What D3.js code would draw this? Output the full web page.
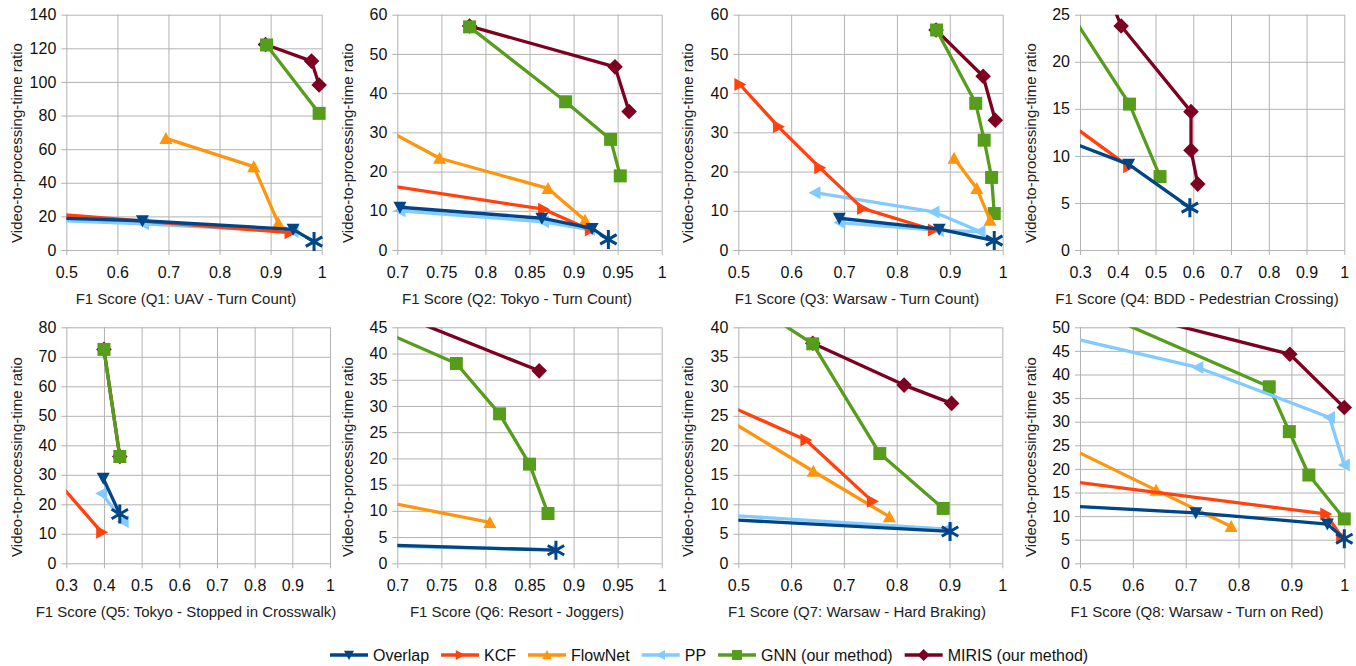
<!DOCTYPE html>
<html><head><meta charset="utf-8">
<script src="https://cdn.jsdelivr.net/npm/d3@7"></script>
<style>
body{margin:0;background:#fff;}
svg{display:block;font-family:"Liberation Sans",Arial,sans-serif;}
</style></head><body>
<svg id="chart" width="1356" height="666"></svg>
<script>
// ---------------- DATA ----------------
const queryTitles = [
  "F1 Score (Q1: UAV - Turn Count)",
  "F1 Score (Q2: Tokyo - Turn Count)",
  "F1 Score (Q3: Warsaw - Turn Count)",
  "F1 Score (Q4: BDD - Pedestrian Crossing)",
  "F1 Score (Q5: Tokyo - Stopped in Crosswalk)",
  "F1 Score (Q6: Resort - Joggers)",
  "F1 Score (Q7: Warsaw - Hard Braking)",
  "F1 Score (Q8: Warsaw - Turn on Red)"
];
const yTitle = "Video-to-processing-time ratio";
const seriesNames = ["Overlap", "KCF", "FlowNet", "PP", "GNN (our method)", "MIRIS (our method)"];

const xDomains = [[0.5,1],[0.7,1],[0.5,1],[0.3,1],[0.3,1],[0.7,1],[0.5,1],[0.5,1]];
const yDomains = [[0,140],[0,60],[0,60],[0,25],[0,80],[0,45],[0,40],[0,50]];
const xTicks = [
  [0.5,0.6,0.7,0.8,0.9,1],
  [0.7,0.75,0.8,0.85,0.9,0.95,1],
  [0.5,0.6,0.7,0.8,0.9,1],
  [0.3,0.4,0.5,0.6,0.7,0.8,0.9,1],
  [0.3,0.4,0.5,0.6,0.7,0.8,0.9,1],
  [0.7,0.75,0.8,0.85,0.9,0.95,1],
  [0.5,0.6,0.7,0.8,0.9,1],
  [0.5,0.6,0.7,0.8,0.9,1]
];
const yTicks = [
  [0,20,40,60,80,100,120,140],
  [0,10,20,30,40,50,60],
  [0,10,20,30,40,50,60],
  [0,5,10,15,20,25],
  [0,10,20,30,40,50,60,70,80],
  [0,5,10,15,20,25,30,35,40,45],
  [0,5,10,15,20,25,30,35,40],
  [0,5,10,15,20,25,30,35,40,45,50]
];

// [F1 score, video-to-processing-time ratio]
const overlapData = [
  [[0.40,19.7],[0.649,17.4],[0.944,12.3]],
  [[0.703,10.9],[0.864,8.1],[0.921,5.5]],
  [[0.691,8.1],[0.880,5.3]],
  [[0.20,12.6],[0.429,9.1]],
  [[0.398,28.8]],
  [[0.50,4.4]],
  [[0.40,7.8]],
  [[0.40,12.6],[0.719,10.7],[0.968,8.3]]
];
// final (full-rate) point of the Overlap curve, drawn as an asterisk
const overlapEndData = [[0.985,5.0],[0.9395,2.7],[0.984,2.4],[0.591,4.5],[0.442,16.7],[0.880,2.5],[0.901,5.4],[1.0,5.2]];
const kcfData = [
  [[0.45,22.0],[0.938,10.3]],
  [[0.60,19.5],[0.866,10.4],[0.919,5.1]],
  [[0.503,42.2],[0.576,31.4],[0.654,21.0],[0.735,10.6],[0.869,5.1]],
  [[0.25,14.1],[0.429,8.85]],
  [[0.28,27.2],[0.394,10.5]],
  [],
  [[0.45,28.0],[0.628,20.9],[0.754,10.5]],
  [[0.40,18.5],[0.965,10.45],[0.995,5.6]]
];
const flownetData = [
  [[0.695,66.4],[0.867,49.6],[0.915,16.0]],
  [[0.68,31.6],[0.748,23.4],[0.871,15.7],[0.913,7.6]],
  [[0.908,23.4],[0.951,15.7],[0.976,7.6]],
  [],
  [],
  [[0.60,14.6],[0.805,7.8]],
  [[0.45,26.0],[0.642,15.6],[0.786,7.9]],
  [[0.45,26.1],[0.644,15.5],[0.786,7.8]]
];
const ppData = [
  [[0.40,18.6],[0.651,15.6],[0.944,11.0]],
  [[0.703,10.0],[0.866,7.2],[0.918,5.2]],
  [[0.645,14.6],[0.870,9.7],[0.957,4.7],[0.878,5.0],[0.692,7.0]],
  [],
  [[0.394,23.7],[0.451,14.2]],
  [[0.50,4.0],[0.875,2.6]],
  [[0.40,8.6],[0.895,5.8]],
  [[0.40,49.9],[0.723,41.5],[0.972,30.9],[1.0,20.8]]
];
const gnnData = [
  [[0.892,122.0],[0.995,81.3]],
  [[0.782,56.9],[0.891,37.8],[0.942,28.2],[0.953,18.9]],
  [[0.875,56.1],[0.949,37.4],[0.965,28.0],[0.979,18.5],[0.984,9.3]],
  [[0.25,26.7],[0.431,15.5],[0.512,7.8]],
  [[0.400,72.5],[0.442,36.2]],
  [[0.68,44.5],[0.767,38.1],[0.816,28.5],[0.850,18.9],[0.871,9.5]],
  [[0.55,42.5],[0.641,37.2],[0.768,18.6],[0.888,9.3]],
  [[0.55,52.4],[0.858,37.4],[0.896,27.9],[0.933,18.7],[1.0,9.4]]
];
const mirisData = [
  [[0.890,122.3],[0.980,112.4],[0.995,98.2]],
  [[0.782,57.1],[0.947,46.7],[0.963,35.3]],
  [[0.874,56.1],[0.963,44.3],[0.986,33.1]],
  [[0.385,26.2],[0.409,23.8],[0.594,14.7],[0.594,10.6],[0.612,7.0]],
  [[0.400,72.5],[0.442,36.2]],
  [[0.70,47.5],[0.861,36.7]],
  [[0.641,37.3],[0.814,30.2],[0.904,27.1]],
  [[0.60,52.7],[0.897,44.3],[1.0,33.0]]
];

// ---------------- STYLE / LAYOUT ----------------
const colors = ["#004586","#ff420e","#ff950e","#83caff","#579d1c","#7e0021"];
const markers = ["down","right","up","left","square","diamond"];
const seriesData = [overlapData, kcfData, flownetData, ppData, gnnData, mirisData];

const colLeft = [66.3, 397.3, 738.3, 1080];
const colRightTop = [321.7, 661.7, 1002.7, 1344.3];
const colRightBot = [330, 661.7, 1002.3, 1344.3];
const colYTitleX = [16, 347.7, 687.7, 1030];
const colXTitleX = [186, 517, 857, 1197];
const rows = [
  {y0:14.7, y1:250, xTitleY:304, yTitleY:143},
  {y0:327.3, y1:563.3, xTitleY:616.7, yTitleY:457}
];

function markerPath(type, s) {
  switch(type) {
    case "down": return `M${-s},${-s*0.85}L${s},${-s*0.85}L0,${s}Z`;
    case "up": return `M${-s},${s*0.85}L${s},${s*0.85}L0,${-s}Z`;
    case "right": return `M${-s*0.85},${-s}L${s},0L${-s*0.85},${s}Z`;
    case "left": return `M${s*0.85},${-s}L${-s},0L${s*0.85},${s}Z`;
    case "square": return `M${-s},${-s}H${s}V${s}H${-s}Z`;
    case "diamond": { const d = s*1.2; return `M0,${-d}L${d},0L0,${d}L${-d},0Z`; }
  }
}
function asteriskPath(s) {
  const a = Math.PI/6;
  const dx = s*Math.cos(a), dy = s*Math.sin(a);
  return `M0,${-s}L0,${s}M${-dx},${-dy}L${dx},${dy}M${-dx},${dy}L${dx},${-dy}`;
}

const svg = d3.select("#chart");
const defs = svg.append("defs");
const fmt = d3.format("~g");
const gridColor = "#b3b3b3";

for (let i = 0; i < 8; i++) {
  const col = i % 4, row = Math.floor(i / 4);
  const R = rows[row];
  const x0 = colLeft[col], x1 = row === 0 ? colRightTop[col] : colRightBot[col];
  const x = d3.scaleLinear().domain(xDomains[i]).range([x0, x1]);
  const y = d3.scaleLinear().domain(yDomains[i]).range([R.y1, R.y0]);
  const g = svg.append("g");

  // Y axis with grid
  const ya = g.append("g").attr("transform", `translate(${x0},0)`)
    .call(d3.axisLeft(y).tickValues(yTicks[i]).tickFormat(fmt).tickSize(-(x1 - x0)).tickSizeOuter(0).tickPadding(10));
  ya.select(".domain").remove();
  ya.selectAll(".tick line").attr("x1", -5).attr("stroke", gridColor).attr("stroke-width", 1);
  ya.selectAll(".tick text").attr("fill", "#111").style("font-size", "16px");

  // X axis with grid
  const xa = g.append("g").attr("transform", `translate(0,${R.y1})`)
    .call(d3.axisBottom(x).tickValues(xTicks[i]).tickFormat(fmt).tickSize(-(R.y1 - R.y0)).tickSizeOuter(0).tickPadding(16.5));
  xa.select(".domain").remove();
  xa.selectAll(".tick line").attr("y1", 5).attr("stroke", gridColor).attr("stroke-width", 1);
  xa.selectAll(".tick text").attr("fill", "#111").style("font-size", "16px");

  // titles
  g.append("text").attr("x", colXTitleX[col]).attr("y", R.xTitleY)
    .attr("text-anchor", "middle").attr("fill", "#222").style("font-size", "15px")
    .text(queryTitles[i]);
  g.append("text").attr("transform", `translate(${colYTitleX[col]},${R.yTitleY}) rotate(-90)`)
    .attr("text-anchor", "middle").attr("dominant-baseline", "central")
    .attr("fill", "#222").style("font-size", "15px").text(yTitle);

  // clip
  const cid = "clip" + i;
  defs.append("clipPath").attr("id", cid).append("rect")
    .attr("x", x0).attr("y", R.y0).attr("width", x1 - x0).attr("height", R.y1 - R.y0);

  const line = d3.line().x(d => x(d[0])).y(d => y(d[1]));
  const inDomain = d => d[0] >= xDomains[i][0] - 1e-9 && d[0] <= xDomains[i][1] + 1e-9 &&
                        d[1] >= yDomains[i][0] - 1e-9 && d[1] <= yDomains[i][1] + 1e-9;

  // draw series in reverse order (MIRIS at bottom, Overlap on top)
  for (let s = 5; s >= 0; s--) {
    let pts = seriesData[s][i];
    if (s === 0) pts = pts.concat([overlapEndData[i]]);
    if (!pts.length) continue;
    g.append("path").datum(pts).attr("clip-path", `url(#${cid})`)
      .attr("d", line).attr("fill", "none").attr("stroke", colors[s])
      .attr("stroke-width", 3.3).attr("stroke-linejoin", "round");
    const mpts = seriesData[s][i].filter(inDomain);
    g.selectAll(null).data(mpts).join("path")
      .attr("transform", d => `translate(${x(d[0])},${y(d[1])})`)
      .attr("d", markerPath(markers[s], 6.5)).attr("fill", colors[s]);
    if (s === 0) {
      g.append("path").datum(overlapEndData[i])
        .attr("transform", d => `translate(${x(d[0])},${y(d[1])})`)
        .attr("d", asteriskPath(9.5)).attr("fill", "none")
        .attr("stroke", colors[0]).attr("stroke-width", 3);
    }
  }
}

// ---------------- LEGEND ----------------
const leg = svg.append("g").attr("transform", "translate(0,655)");
let lx = 330;
seriesNames.forEach((name, s) => {
  const it = leg.append("g").attr("transform", `translate(${lx},0)`);
  it.append("line").attr("x1", 0).attr("x2", 38).attr("y1", 0).attr("y2", 0)
    .attr("stroke", colors[s]).attr("stroke-width", 3.3);
  it.append("path").attr("transform", "translate(19,0)")
    .attr("d", markerPath(markers[s], 5)).attr("fill", colors[s]);
  const t = it.append("text").attr("x", 43).attr("y", 0).attr("dominant-baseline", "central")
    .attr("fill", "#111").style("font-size", "16px").text(name);
  lx += 43 + t.node().getComputedTextLength() + 12;
});
</script>
</body></html>
